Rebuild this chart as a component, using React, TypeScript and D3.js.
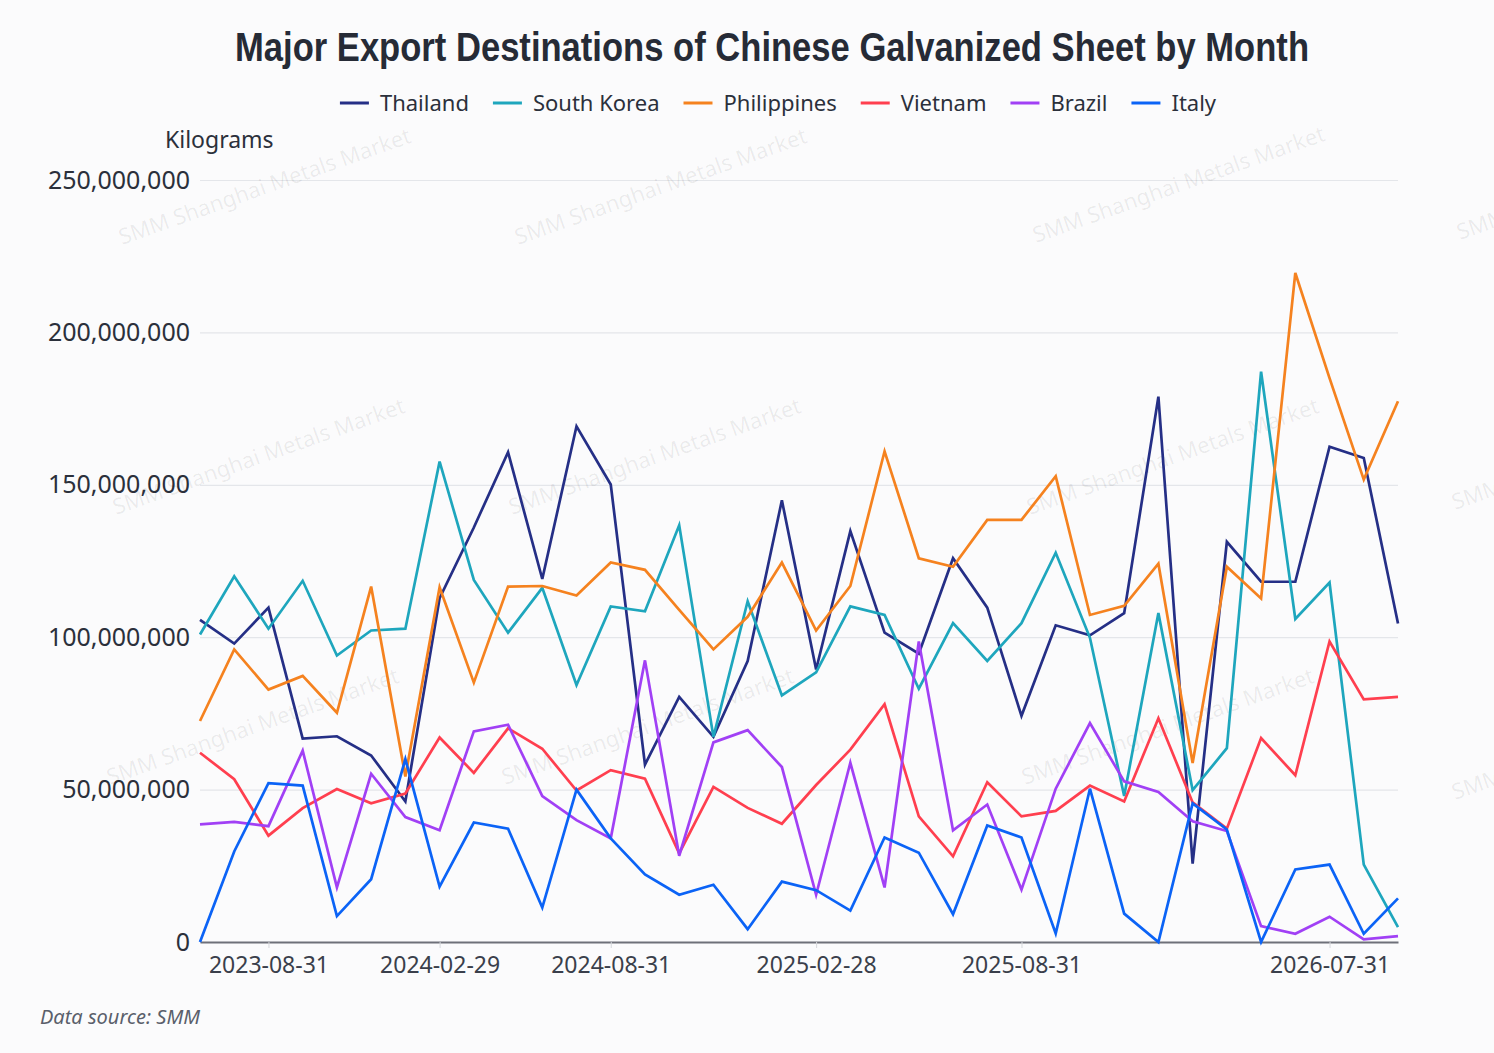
import { useEffect, useRef } from "react";
import * as d3 from "d3";

const DATES = [
  "2023-06-30", "2023-07-31", "2023-08-31", "2023-09-30", "2023-10-31", "2023-11-30",
  "2024-01-31", "2024-02-29", "2024-03-31", "2024-04-30", "2024-05-31", "2024-06-30",
  "2024-08-31", "2024-09-30", "2024-10-31", "2024-11-30", "2024-12-31", "2025-01-31",
  "2025-02-28", "2025-03-31", "2025-04-30", "2025-05-31", "2025-06-30", "2025-07-31",
  "2025-08-31", "2025-09-30", "2025-10-31", "2025-11-30", "2025-12-31", "2026-01-31",
  "2026-03-31", "2026-04-30", "2026-06-30", "2026-07-31", "2026-08-31", "2026-09-30",
];

const TICK_LABELS = ["2023-08-31", "2024-02-29", "2024-08-31", "2025-02-28", "2025-08-31", "2026-07-31"];
const Y_TICKS = [0, 50e6, 100e6, 150e6, 200e6, 250e6];

// values in millions of kilograms
const THAILAND = [
  105.7, 97.9, 109.7, 66.7, 67.5, 61.2, 46.1, 112.8, 136, 160.7, 119.1, 169.2,
  150.1, 58.2, 80.4, 67.3, 92.2, 144.9, 89.4, 134.8, 101.5, 94.6, 125.9, 109.7,
  74.2, 103.9, 100.6, 107.9, 178.9, 25.7, 131.3, 118.2, 118.2, 162.5, 158.8, 104.5,
];
const SOUTH_KOREA = [
  100.9, 120, 102.8, 118.5, 94, 102.2, 102.8, 157.6, 118.8, 101.5, 116.2, 84.3,
  110.1, 108.5, 136.7, 67.3, 111.8, 80.9, 88.5, 110.1, 107.3, 83.1, 104.6, 92.2,
  104.6, 127.7, 99.8, 47.9, 107.9, 49.8, 63.6, 187.1, 106, 117.9, 25.4, 4.9,
];
const PHILIPPINES = [
  72.5, 96, 82.8, 87.3, 75.2, 116.6, 54.3, 116.4, 85.1, 116.6, 116.8, 113.7,
  124.5, 122.1, 109, 96, 106.7, 124.5, 102.2, 116.8, 161, 125.9, 123.1, 138.5,
  138.5, 152.8, 107.3, 110.3, 124.1, 58.7, 123.1, 112.7, 219.5, 185, 151.7, 177.4,
];
const VIETNAM = [
  62.1, 53.4, 34.9, 43.9, 50.2, 45.5, 48.7, 67.1, 55.5, 70.1, 63.4, 49.7,
  56.4, 53.6, 29.1, 50.9, 44, 38.8, 51.5, 63.1, 78, 41.2, 28.1, 52.4,
  41.2, 43, 51.3, 46.1, 73.4, 45.8, 37.2, 66.9, 54.7, 98.6, 79.6, 80.4,
];
const BRAZIL = [
  38.6, 39.4, 38, 62.8, 17.9, 55.2, 41, 36.7, 69.1, 71.3, 47.9, 40,
  34, 92.4, 28.3, 65.5, 69.5, 57.4, 15.5, 58.8, 17.9, 98.6, 36.6, 45.1,
  17.2, 50.3, 71.8, 52.7, 49.2, 39.6, 36.4, 5.2, 2.7, 8.3, 0.9, 1.9,
];
const ITALY = [
  0, 29.7, 52.1, 51.3, 8.5, 20.6, 60, 18.2, 39.2, 37.2, 11.3, 50,
  34, 22.2, 15.5, 18.8, 4.2, 19.8, 17, 10.3, 34.3, 29.3, 9.1, 38.2,
  34.3, 2.8, 50.3, 9.3, 0, 45.5, 36.9, 0, 23.8, 25.4, 2.7, 14.3,
];

const SERIES = [
  { name: "Thailand", color: "#252f86", values: THAILAND },
  { name: "South Korea", color: "#1ea6bd", values: SOUTH_KOREA },
  { name: "Philippines", color: "#f5821f", values: PHILIPPINES },
  { name: "Vietnam", color: "#ff3f4f", values: VIETNAM },
  { name: "Brazil", color: "#a140f5", values: BRAZIL },
  { name: "Italy", color: "#0b63f6", values: ITALY },
];

const WATERMARKS = [
  [122, 245], [518, 245], [1036, 243], [1460, 240],
  [116, 515], [512, 515], [1030, 515], [1455, 510],
  [110, 785], [505, 785], [1025, 785], [1455, 800],
];

const W = 1494;
const H = 1053;
const FONT = "'Noto Sans', 'Open Sans', sans-serif";

export default function App() {
  const svgRef = useRef<SVGSVGElement>(null);

  useEffect(() => {
    if (!svgRef.current) return;
    const root = d3.select(svgRef.current);
    root.selectAll("*").remove();

    const left = 200, right = 1398, top = 180, bottom = 942;

    root.append("rect").attr("width", W).attr("height", H).attr("fill", "#fbfbfc");

    const x = d3.scalePoint<string>().domain(DATES).range([left, right]);
    const y = d3.scaleLinear().domain([0, 250e6]).range([bottom, top]);

    // grid + y labels
    root.append("g")
      .attr("transform", `translate(${left},0)`)
      .call(d3.axisLeft(y).tickValues(Y_TICKS).tickSize(-(right - left)).tickPadding(10).tickFormat(d3.format(",")))
      .call((g) => g.select(".domain").remove())
      .call((g) => g.selectAll(".tick line").attr("stroke", "#e4e6ea").attr("stroke-width", 1.2))
      .call((g) => g.selectAll(".tick text")
        .attr("fill", "#2b303b").attr("font-size", "25px").attr("font-family", FONT));

    // watermark
    WATERMARKS.forEach(([wx, wy]) => {
      root.append("text")
        .attr("transform", `translate(${wx},${wy}) rotate(-19.5)`)
        .attr("fill", "#000").attr("fill-opacity", 0.07)
        .attr("font-size", "22px").attr("font-family", FONT)
        .text("SMM Shanghai Metals Market");
    });

    // x axis
    root.append("g")
      .attr("transform", `translate(0,${bottom})`)
      .call(d3.axisBottom(x).tickValues(TICK_LABELS).tickSize(6).tickSizeOuter(0).tickPadding(9))
      .call((g) => g.select(".domain").attr("stroke", "#6e7079").attr("stroke-width", 2))
      .call((g) => g.selectAll(".tick line").attr("stroke", "#d6d8dc"))
      .call((g) => g.selectAll(".tick text")
        .attr("fill", "#3a3f4b").attr("font-size", "23px").attr("font-family", FONT));

    // lines
    const line = d3.line<number>()
      .x((_, i) => x(DATES[i]) as number)
      .y((d) => y(d * 1e6));

    SERIES.forEach((s) => {
      root.append("path")
        .datum(s.values)
        .attr("fill", "none")
        .attr("stroke", s.color)
        .attr("stroke-width", 2.7)
        .attr("stroke-linejoin", "miter")
        .attr("d", line);
    });

    // title
    root.append("text")
      .attr("x", 772).attr("y", 61)
      .attr("text-anchor", "middle")
      .attr("fill", "#262b36")
      .attr("font-size", "40px").attr("font-weight", "bold")
      .attr("font-family", "'Liberation Sans Narrow', 'Arial Narrow', 'Liberation Sans', sans-serif")
      .attr("textLength", 1074).attr("lengthAdjust", "spacingAndGlyphs")
      .text("Major Export Destinations of Chinese Galvanized Sheet by Month");

    // legend
    const legend = root.append("g");
    let cursor = 0;
    SERIES.forEach((s) => {
      const item = legend.append("g").attr("transform", `translate(${cursor},0)`);
      item.append("line")
        .attr("x1", 0).attr("x2", 29).attr("y1", 103).attr("y2", 103)
        .attr("stroke", s.color).attr("stroke-width", 3);
      const t = item.append("text")
        .attr("x", 40).attr("y", 111)
        .attr("fill", "#2b303b").attr("font-size", "22px").attr("font-family", FONT)
        .text(s.name);
      const tw = (t.node() as SVGTextElement).getComputedTextLength();
      cursor += 40 + tw + 24;
    });
    const totalW = cursor - 24;
    legend.attr("transform", `translate(${778 - totalW / 2},0)`);

    // y axis title
    root.append("text")
      .attr("x", 165).attr("y", 148)
      .attr("fill", "#2b303b").attr("font-size", "23px").attr("font-family", FONT)
      .text("Kilograms");

    // footer
    root.append("text")
      .attr("x", 40).attr("y", 1024)
      .attr("fill", "#5a5f6b").attr("font-size", "20px").attr("font-style", "italic").attr("font-family", FONT)
      .text("Data source: SMM");
  }, []);

  return (
    <svg
      ref={svgRef}
      width={W}
      height={H}
      style={{ position: "absolute", left: 0, top: 0, display: "block" }}
    />
  );
}
